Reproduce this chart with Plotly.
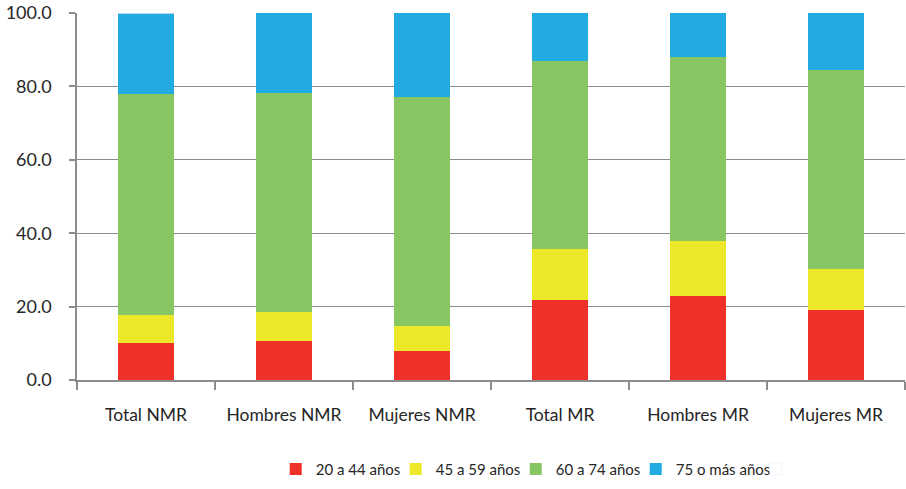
import plotly.graph_objects as go

categories = ["Total NMR", "Hombres NMR", "Mujeres NMR", "Total MR", "Hombres MR", "Mujeres MR"]
series_names = ["20 a 44 años", "45 a 59 años", "60 a 74 años", "75 o más años"]
s_20_44 = [10.1, 10.7, 7.9, 21.8, 22.9, 19.1]
s_45_59 = [7.6, 7.8, 6.8, 13.9, 15.0, 11.1]
s_60_74 = [60.2, 59.7, 62.4, 51.2, 50.1, 54.3]
s_75 = [22.1, 21.8, 22.9, 13.1, 12.0, 15.5]
colors = ["#EE3129", "#EDE829", "#88C663", "#21ABE1"]
y_ticks = [0, 20, 40, 60, 80, 100]

fig = go.Figure()
for name, vals, col in zip(series_names, [s_20_44, s_45_59, s_60_74, s_75], colors):
    fig.add_trace(go.Bar(x=categories, y=vals, name=name, marker=dict(color=col, line=dict(width=0)), width=0.4))
# spacer legend entry so the last legend label is not clipped
fig.add_trace(go.Bar(x=[categories[0]], y=[0], name=" ", marker=dict(color="rgba(0,0,0,0)"),
                     hoverinfo="skip", width=0.4))

fig.update_layout(
    barmode="stack",
    width=906, height=489,
    margin=dict(l=77, r=1, t=13, b=109, autoexpand=False),
    paper_bgcolor="white", plot_bgcolor="white",
    font=dict(family="Lato, Open Sans, Liberation Sans, sans-serif", color="#262626"),
    legend=dict(orientation="h", x=0.24, xanchor="left", y=-0.243, yanchor="middle",
                font=dict(size=15), entrywidth=75, entrywidthmode="pixels",
                traceorder="normal", itemwidth=30),
    showlegend=True,
)
fig.update_xaxes(showline=True, linecolor="#8C8C8C", linewidth=1.5, tickangle=0,
                 ticks="outside", tickson="boundaries", ticklen=8, tickcolor="#8C8C8C", tickwidth=1.5,
                 tickfont=dict(size=17.5), ticklabelstandoff=18, showgrid=False)
fig.update_yaxes(range=[0, 100], tickvals=y_ticks, tickformat=".1f",
                 showline=True, linecolor="#8C8C8C", linewidth=1.5,
                 ticks="outside", ticklen=6, tickcolor="#8C8C8C", tickwidth=1.5,
                 showgrid=True, gridcolor="#8C8C8C", gridwidth=1.2, ticklabelstandoff=14,
                 tickfont=dict(size=18), zeroline=False)

fig.write_html("out.html", config={"displayModeBar": False},
               post_script="document.body.style.margin='0';")
